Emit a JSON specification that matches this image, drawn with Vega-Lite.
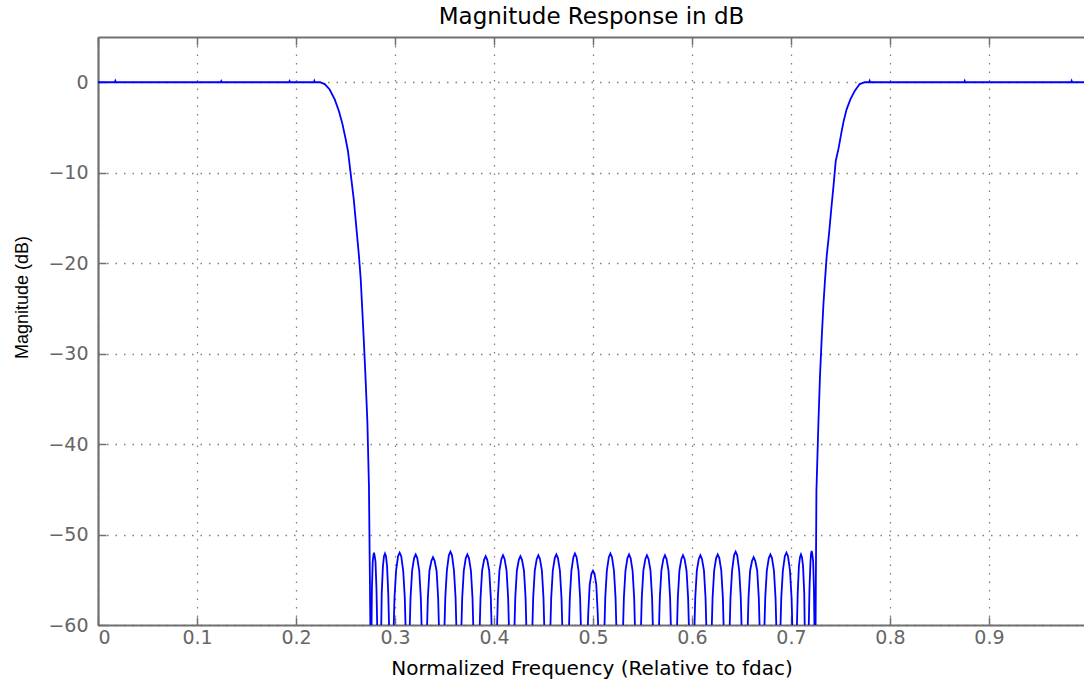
{
  "$schema": "https://vega.github.io/schema/vega-lite/v6.json",
  "width": 987,
  "height": 588,
  "autosize": {"type": "none"},
  "padding": {"left": 98, "top": 37, "right": 0, "bottom": 55},
  "background": "white",
  "title": {"text": "Magnitude Response in dB", "font": "DejaVu Sans", "fontSize": 23, "fontWeight": "normal", "color": "black", "offset": 7, "anchor": "middle"},
  "config": {"font": "DejaVu Sans", "view": {"stroke": null}},
  "data": {"values": [
    {"f": 0, "db": 0}, {"f": 0.017, "db": 0}, {"f": 0.0175, "db": 0.15}, {"f": 0.018, "db": 0},
    {"f": 0.124, "db": 0}, {"f": 0.1245, "db": 0.12}, {"f": 0.125, "db": 0},
    {"f": 0.193, "db": 0}, {"f": 0.1935, "db": 0.12}, {"f": 0.194, "db": 0},
    {"f": 0.218, "db": 0}, {"f": 0.2185, "db": 0.15}, {"f": 0.219, "db": 0},
    {"f": 0.2242, "db": 0}, {"f": 0.229, "db": -0.2}, {"f": 0.234, "db": -0.8}, {"f": 0.2391, "db": -1.9},
    {"f": 0.2434, "db": -3.2}, {"f": 0.2469, "db": -4.6}, {"f": 0.2502, "db": -6.3}, {"f": 0.2525, "db": -7.6},
    {"f": 0.2549, "db": -9.8}, {"f": 0.2583, "db": -12.9}, {"f": 0.261, "db": -16.1}, {"f": 0.2636, "db": -19.2},
    {"f": 0.2654, "db": -21.8}, {"f": 0.2667, "db": -24.6}, {"f": 0.2684, "db": -28.3}, {"f": 0.2701, "db": -32.3},
    {"f": 0.2721, "db": -37.5}, {"f": 0.2737, "db": -44.7}, {"f": 0.2752, "db": -61},
    {"f": 0.2762, "db": -61}, {"f": 0.2767, "db": -56}, {"f": 0.2775, "db": -53}, {"f": 0.2782, "db": -52.3}, {"f": 0.2788, "db": -52.0}, {"f": 0.2794, "db": -52.3}, {"f": 0.2803, "db": -53}, {"f": 0.2813, "db": -56}, {"f": 0.2822, "db": -61},
    {"f": 0.286, "db": -61}, {"f": 0.2866, "db": -56.5}, {"f": 0.2878, "db": -53.5}, {"f": 0.2889, "db": -52.4}, {"f": 0.2899, "db": -52.1}, {"f": 0.2909, "db": -52.4}, {"f": 0.292, "db": -53.5}, {"f": 0.2932, "db": -56.5}, {"f": 0.2942, "db": -61},
    {"f": 0.2985, "db": -61}, {"f": 0.2995, "db": -57}, {"f": 0.3011, "db": -54}, {"f": 0.3031, "db": -52.4}, {"f": 0.3047, "db": -52.0}, {"f": 0.3063, "db": -52.4}, {"f": 0.3083, "db": -54}, {"f": 0.3099, "db": -57}, {"f": 0.3109, "db": -61},
    {"f": 0.3147, "db": -61}, {"f": 0.3157, "db": -57}, {"f": 0.3173, "db": -54}, {"f": 0.3193, "db": -52.6}, {"f": 0.3209, "db": -52.2}, {"f": 0.3225, "db": -52.6}, {"f": 0.3245, "db": -54}, {"f": 0.3261, "db": -57}, {"f": 0.3271, "db": -61},
    {"f": 0.3322, "db": -61}, {"f": 0.3332, "db": -57}, {"f": 0.3348, "db": -54}, {"f": 0.3368, "db": -52.9}, {"f": 0.3384, "db": -52.5}, {"f": 0.34, "db": -52.9}, {"f": 0.342, "db": -54}, {"f": 0.3436, "db": -57}, {"f": 0.3446, "db": -61},
    {"f": 0.3498, "db": -61}, {"f": 0.3508, "db": -57}, {"f": 0.3524, "db": -54}, {"f": 0.3544, "db": -52.3}, {"f": 0.356, "db": -51.9}, {"f": 0.3576, "db": -52.3}, {"f": 0.3596, "db": -54}, {"f": 0.3612, "db": -57}, {"f": 0.3622, "db": -61},
    {"f": 0.3669, "db": -61}, {"f": 0.3679, "db": -57}, {"f": 0.3695, "db": -54}, {"f": 0.3715, "db": -52.6}, {"f": 0.3731, "db": -52.2}, {"f": 0.3747, "db": -52.6}, {"f": 0.3767, "db": -54}, {"f": 0.3783, "db": -57}, {"f": 0.3793, "db": -61},
    {"f": 0.3854, "db": -61}, {"f": 0.3864, "db": -57}, {"f": 0.388, "db": -54}, {"f": 0.39, "db": -52.8}, {"f": 0.3916, "db": -52.4}, {"f": 0.3932, "db": -52.8}, {"f": 0.3952, "db": -54}, {"f": 0.3968, "db": -57}, {"f": 0.3978, "db": -61},
    {"f": 0.4029, "db": -61}, {"f": 0.4039, "db": -57}, {"f": 0.4055, "db": -54}, {"f": 0.4075, "db": -52.7}, {"f": 0.4091, "db": -52.3}, {"f": 0.4107, "db": -52.7}, {"f": 0.4127, "db": -54}, {"f": 0.4143, "db": -57}, {"f": 0.4153, "db": -61},
    {"f": 0.4205, "db": -61}, {"f": 0.4215, "db": -57}, {"f": 0.4231, "db": -54}, {"f": 0.4251, "db": -52.8}, {"f": 0.4267, "db": -52.4}, {"f": 0.4283, "db": -52.8}, {"f": 0.4303, "db": -54}, {"f": 0.4319, "db": -57}, {"f": 0.4329, "db": -61},
    {"f": 0.4386, "db": -61}, {"f": 0.4396, "db": -57}, {"f": 0.4412, "db": -54}, {"f": 0.4432, "db": -52.7}, {"f": 0.4448, "db": -52.3}, {"f": 0.4464, "db": -52.7}, {"f": 0.4484, "db": -54}, {"f": 0.45, "db": -57}, {"f": 0.451, "db": -61},
    {"f": 0.4568, "db": -61}, {"f": 0.4578, "db": -57}, {"f": 0.4594, "db": -54}, {"f": 0.4614, "db": -52.6}, {"f": 0.463, "db": -52.2}, {"f": 0.4646, "db": -52.6}, {"f": 0.4666, "db": -54}, {"f": 0.4682, "db": -57}, {"f": 0.4692, "db": -61},
    {"f": 0.4756, "db": -61}, {"f": 0.4766, "db": -57}, {"f": 0.4782, "db": -54}, {"f": 0.4802, "db": -52.5}, {"f": 0.4818, "db": -52.1}, {"f": 0.4834, "db": -52.5}, {"f": 0.4854, "db": -54}, {"f": 0.487, "db": -57}, {"f": 0.488, "db": -61},
    {"f": 0.4945, "db": -61}, {"f": 0.4953, "db": -58.5}, {"f": 0.4967, "db": -55.5}, {"f": 0.4985, "db": -54.3}, {"f": 0.5, "db": -54.0}, {"f": 0.5015, "db": -54.3}, {"f": 0.5033, "db": -55.5}, {"f": 0.5047, "db": -58.5}, {"f": 0.5055, "db": -61},
    {"f": 0.5114, "db": -61}, {"f": 0.5124, "db": -57}, {"f": 0.514, "db": -54}, {"f": 0.516, "db": -52.5}, {"f": 0.5176, "db": -52.1}, {"f": 0.5192, "db": -52.5}, {"f": 0.5212, "db": -54}, {"f": 0.5228, "db": -57}, {"f": 0.5238, "db": -61},
    {"f": 0.5302, "db": -61}, {"f": 0.5312, "db": -57}, {"f": 0.5328, "db": -54}, {"f": 0.5348, "db": -52.6}, {"f": 0.5364, "db": -52.2}, {"f": 0.538, "db": -52.6}, {"f": 0.54, "db": -54}, {"f": 0.5416, "db": -57}, {"f": 0.5426, "db": -61},
    {"f": 0.5483, "db": -61}, {"f": 0.5493, "db": -57}, {"f": 0.5509, "db": -54}, {"f": 0.5529, "db": -52.7}, {"f": 0.5545, "db": -52.3}, {"f": 0.5561, "db": -52.7}, {"f": 0.5581, "db": -54}, {"f": 0.5597, "db": -57}, {"f": 0.5607, "db": -61},
    {"f": 0.5665, "db": -61}, {"f": 0.5675, "db": -57}, {"f": 0.5691, "db": -54}, {"f": 0.5711, "db": -52.7}, {"f": 0.5727, "db": -52.3}, {"f": 0.5743, "db": -52.7}, {"f": 0.5763, "db": -54}, {"f": 0.5779, "db": -57}, {"f": 0.5789, "db": -61},
    {"f": 0.5847, "db": -61}, {"f": 0.5857, "db": -57}, {"f": 0.5873, "db": -54}, {"f": 0.5893, "db": -52.7}, {"f": 0.5909, "db": -52.3}, {"f": 0.5925, "db": -52.7}, {"f": 0.5945, "db": -54}, {"f": 0.5961, "db": -57}, {"f": 0.5971, "db": -61},
    {"f": 0.6023, "db": -61}, {"f": 0.6033, "db": -57}, {"f": 0.6049, "db": -54}, {"f": 0.6069, "db": -52.7}, {"f": 0.6085, "db": -52.3}, {"f": 0.6101, "db": -52.7}, {"f": 0.6121, "db": -54}, {"f": 0.6137, "db": -57}, {"f": 0.6147, "db": -61},
    {"f": 0.6198, "db": -61}, {"f": 0.6208, "db": -57}, {"f": 0.6224, "db": -54}, {"f": 0.6244, "db": -52.6}, {"f": 0.626, "db": -52.2}, {"f": 0.6276, "db": -52.6}, {"f": 0.6296, "db": -54}, {"f": 0.6312, "db": -57}, {"f": 0.6322, "db": -61},
    {"f": 0.6379, "db": -61}, {"f": 0.6389, "db": -57}, {"f": 0.6405, "db": -54}, {"f": 0.6425, "db": -52.3}, {"f": 0.6441, "db": -51.9}, {"f": 0.6457, "db": -52.3}, {"f": 0.6477, "db": -54}, {"f": 0.6493, "db": -57}, {"f": 0.6503, "db": -61},
    {"f": 0.6561, "db": -61}, {"f": 0.6571, "db": -57}, {"f": 0.6587, "db": -54}, {"f": 0.6607, "db": -52.9}, {"f": 0.6623, "db": -52.5}, {"f": 0.6639, "db": -52.9}, {"f": 0.6659, "db": -54}, {"f": 0.6675, "db": -57}, {"f": 0.6685, "db": -61},
    {"f": 0.673, "db": -61}, {"f": 0.674, "db": -57}, {"f": 0.6756, "db": -54}, {"f": 0.6776, "db": -52.6}, {"f": 0.6792, "db": -52.2}, {"f": 0.6808, "db": -52.6}, {"f": 0.6828, "db": -54}, {"f": 0.6844, "db": -57}, {"f": 0.6854, "db": -61},
    {"f": 0.6892, "db": -61}, {"f": 0.6902, "db": -57}, {"f": 0.6918, "db": -54}, {"f": 0.6938, "db": -52.4}, {"f": 0.6954, "db": -52.0}, {"f": 0.697, "db": -52.4}, {"f": 0.699, "db": -54}, {"f": 0.7006, "db": -57}, {"f": 0.7016, "db": -61},
    {"f": 0.7058, "db": -61}, {"f": 0.7068, "db": -56.5}, {"f": 0.708, "db": -53.5}, {"f": 0.7091, "db": -52.5}, {"f": 0.7101, "db": -52.2}, {"f": 0.7111, "db": -52.5}, {"f": 0.7122, "db": -53.5}, {"f": 0.7134, "db": -56.5}, {"f": 0.714, "db": -61},
    {"f": 0.7178, "db": -61}, {"f": 0.7187, "db": -56}, {"f": 0.7197, "db": -53}, {"f": 0.7203, "db": -52.1}, {"f": 0.7209, "db": -51.8}, {"f": 0.7215, "db": -52.1}, {"f": 0.7224, "db": -53}, {"f": 0.7232, "db": -56}, {"f": 0.7238, "db": -61},
    {"f": 0.7248, "db": -61}, {"f": 0.7257, "db": -45.2}, {"f": 0.7277, "db": -37.7}, {"f": 0.7293, "db": -32.5},
    {"f": 0.731, "db": -28.4}, {"f": 0.7327, "db": -24.7}, {"f": 0.7344, "db": -21.8}, {"f": 0.7361, "db": -19.2},
    {"f": 0.7384, "db": -16.8}, {"f": 0.7408, "db": -13.9}, {"f": 0.7431, "db": -11.3}, {"f": 0.7452, "db": -8.7},
    {"f": 0.7479, "db": -7.4}, {"f": 0.7509, "db": -5.6}, {"f": 0.7532, "db": -4.3}, {"f": 0.7562, "db": -3.0},
    {"f": 0.76, "db": -1.9}, {"f": 0.7644, "db": -0.96}, {"f": 0.7694, "db": -0.2}, {"f": 0.7745, "db": 0},
    {"f": 0.779, "db": 0}, {"f": 0.7795, "db": 0.15}, {"f": 0.78, "db": 0},
    {"f": 0.875, "db": 0}, {"f": 0.8755, "db": 0.15}, {"f": 0.876, "db": 0},
    {"f": 0.983, "db": 0}, {"f": 0.9835, "db": 0.15}, {"f": 0.984, "db": 0}, {"f": 0.997, "db": 0}
  ]},
  "layer": [
    {
      "mark": {"type": "line", "color": "#0000ff", "strokeWidth": 1.8, "clip": true},
      "encoding": {
        "x": {"field": "f", "type": "quantitative",
          "scale": {"domain": [0, 0.997], "nice": false, "zero": false},
          "axis": {"orient": "bottom", "values": [0, 0.1, 0.2, 0.3, 0.4, 0.5, 0.6, 0.7, 0.8, 0.9], "format": ".1~f",
            "grid": true, "gridColor": "#808080", "gridDash": [1.5, 7], "gridWidth": 1.3, "gridOpacity": 1,
            "domain": true, "domainColor": "#707070", "domainWidth": 2.2,
            "ticks": true, "tickSize": -8, "tickColor": "#707070", "tickWidth": 1.5,
            "labelPadding": 11, "labelFlush": true, "labelFont": "DejaVu Sans", "labelFontSize": 19, "labelColor": "#666666",
            "title": "Normalized Frequency (Relative to fdac)", "titleFont": "DejaVu Sans", "titleFontSize": 20, "titleFontWeight": "normal", "titleColor": "black",
            "titleY": 49, "titleBaseline": "alphabetic"}},
        "y": {"field": "db", "type": "quantitative",
          "scale": {"domain": [-60, 5], "nice": false, "zero": false},
          "axis": {"orient": "left", "values": [-60, -50, -40, -30, -20, -10, 0],
            "grid": true, "gridColor": "#808080", "gridDash": [1.5, 7], "gridWidth": 1.3, "gridOpacity": 1,
            "domain": true, "domainColor": "#707070", "domainWidth": 2.2,
            "ticks": true, "tickSize": -8, "tickColor": "#707070", "tickWidth": 1.5,
            "labelPadding": 18, "labelFont": "DejaVu Sans", "labelFontSize": 19, "labelColor": "#666666",
            "title": "Magnitude (dB)", "titleFont": "Liberation Sans", "titleFontSize": 18, "titleFontWeight": "normal", "titleColor": "black",
            "titleX": -76, "titleY": 260, "titleAngle": -90, "titleAlign": "center", "titleBaseline": "middle"}}
      }
    },
    {
      "mark": {"type": "line", "strokeOpacity": 0, "clip": true},
      "encoding": {
        "x": {"field": "f", "type": "quantitative",
          "axis": {"orient": "top", "values": [0, 0.1, 0.2, 0.3, 0.4, 0.5, 0.6, 0.7, 0.8, 0.9], "labels": false, "grid": false,
            "domain": true, "domainColor": "#707070", "domainWidth": 2.2,
            "ticks": true, "tickSize": -8, "tickColor": "#707070", "tickWidth": 1.5, "title": null}},
        "y": {"field": "db", "type": "quantitative", "axis": null}
      }
    }
  ],
  "resolve": {"axis": {"x": "independent", "y": "independent"}}
}
